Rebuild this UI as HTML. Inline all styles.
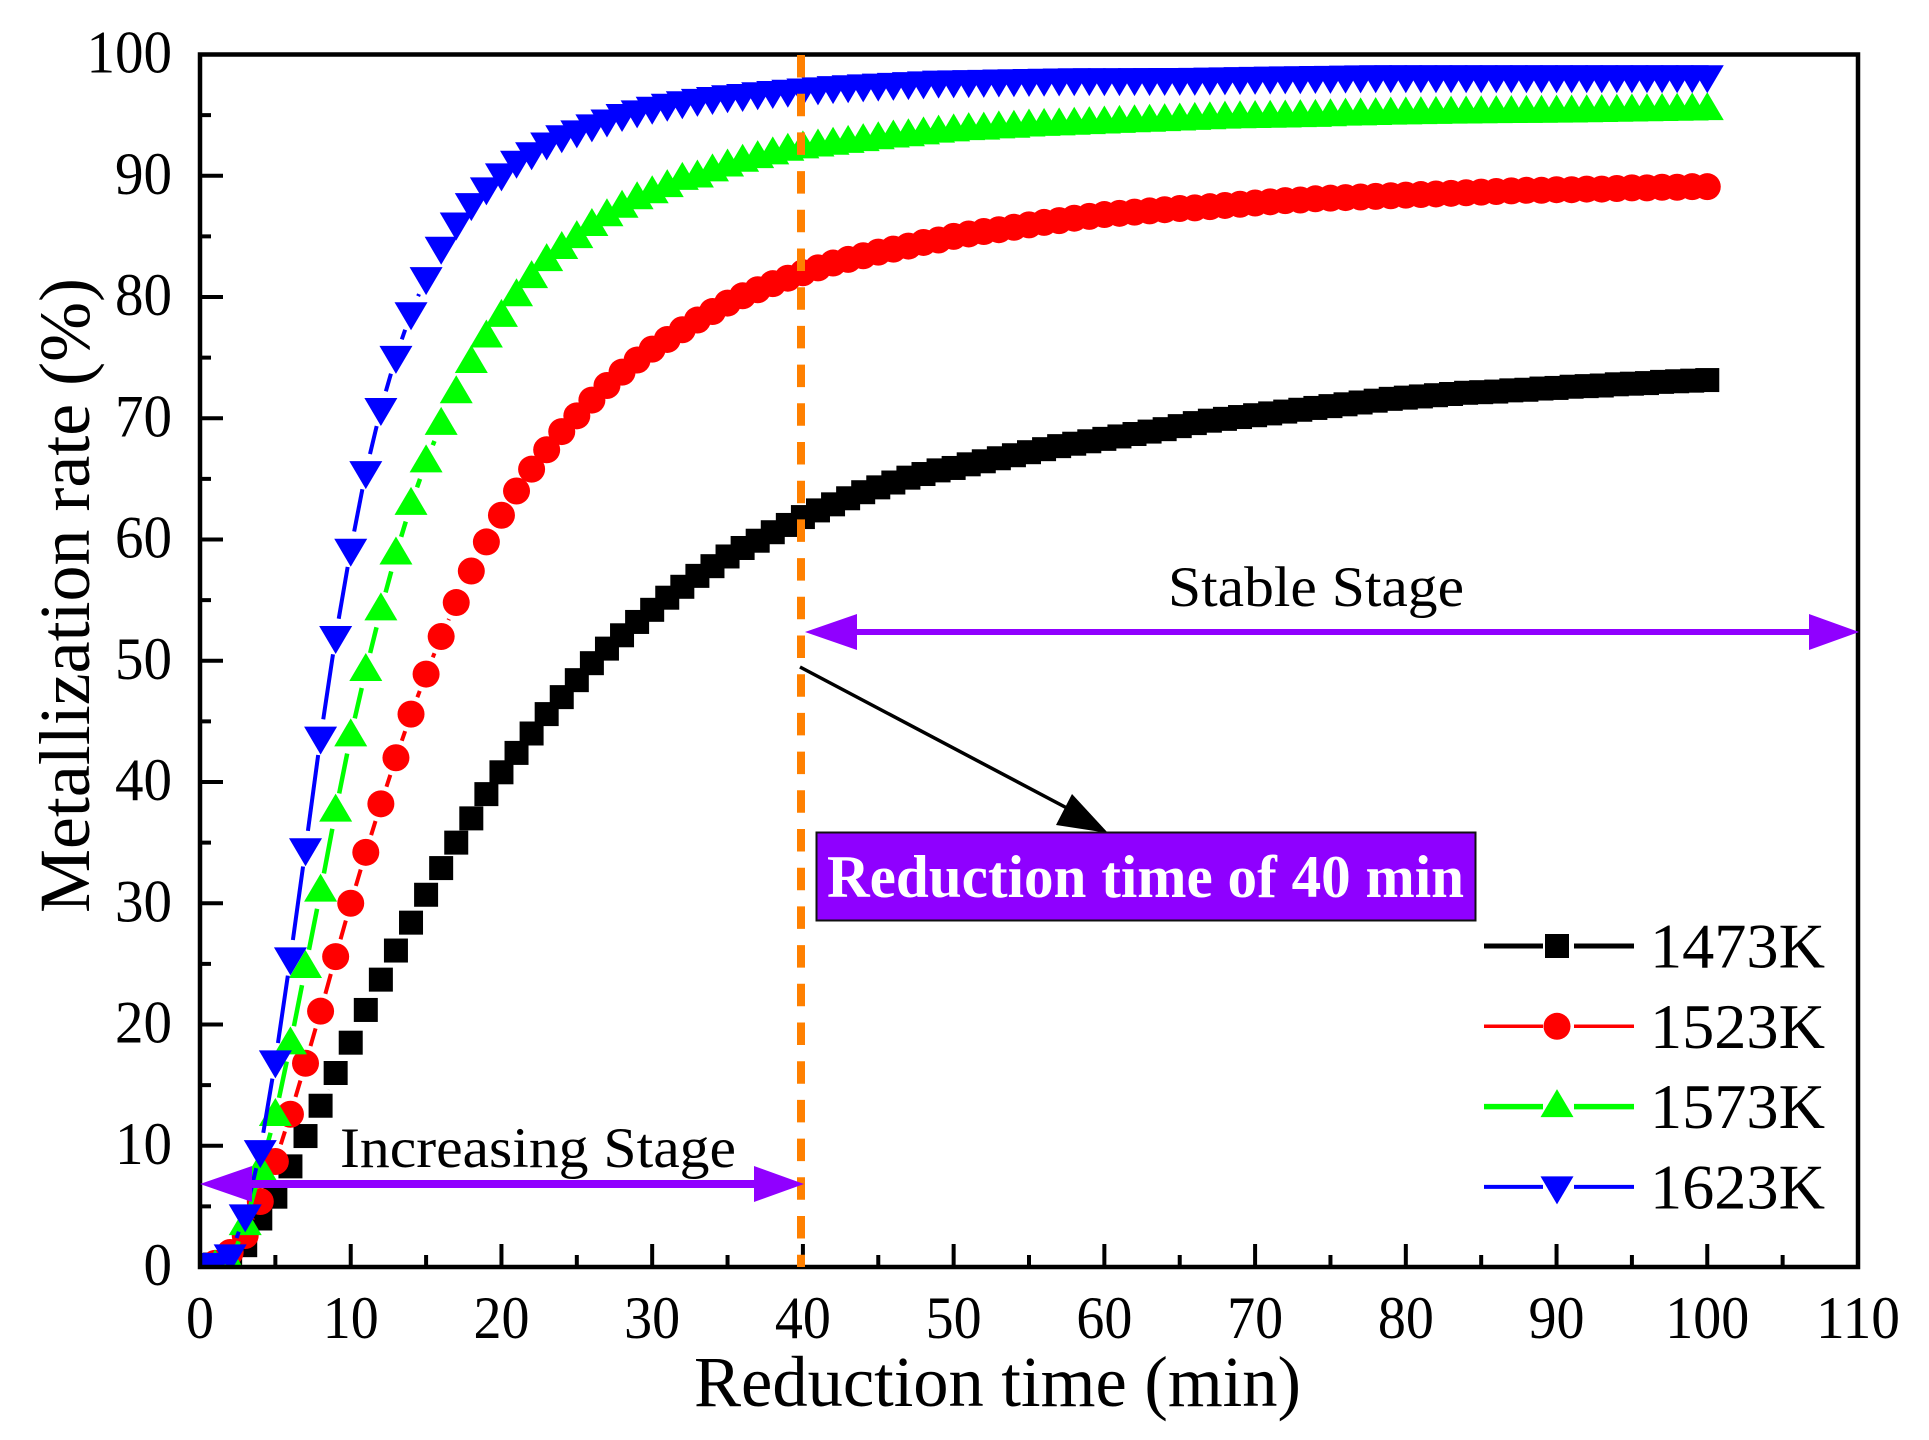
<!DOCTYPE html>
<html lang="en">
<head>
<meta charset="utf-8">
<title>Metallization rate vs reduction time</title>
<style>
html,body{margin:0;padding:0;background:#fff;}
svg{display:block;font-family:"Liberation Serif",serif;}
</style>
</head>
<body>
<svg id="chart" xmlns="http://www.w3.org/2000/svg" width="1929" height="1440" viewBox="0 0 1929 1440">
  <defs>
    <clipPath id="plot-clip"><rect x="198" y="54" width="1660" height="1213"></rect></clipPath>
  </defs>
  <rect x="0" y="0" width="1929" height="1440" fill="#ffffff"></rect>
  <g id="series-layer" clip-path="url(#plot-clip)"></g>
  <g id="axis-layer"></g>
  <rect x="200" y="54.5" width="1658" height="1212.5" fill="none" stroke="#000" stroke-width="4.5"></rect>
  <text x="694" y="1406" font-size="72" textLength="607" lengthAdjust="spacingAndGlyphs" fill="#000">Reduction time (min)</text>
  <text transform="translate(89,913) rotate(-90)" font-size="72" textLength="635" lengthAdjust="spacingAndGlyphs" fill="#000">Metallization rate (%)</text>

  <line x1="801" y1="55" x2="801" y2="1267" stroke="#ff8000" stroke-width="8" stroke-dasharray="22.5 16.2"></line>

  <g fill="#9000ff">
    <rect x="240" y="1180" width="525" height="8"></rect>
    <polygon points="200,1184 252,1166 252,1202"></polygon>
    <polygon points="804,1184 754,1166 754,1202"></polygon>
  </g>
  <text x="340" y="1167" font-size="57" textLength="396" lengthAdjust="spacingAndGlyphs" fill="#000">Increasing Stage</text>

  <g fill="#9000ff">
    <rect x="845" y="629" width="975" height="6"></rect>
    <polygon points="805,632 857,614 857,650"></polygon>
    <polygon points="1859,632 1809,614 1809,650"></polygon>
  </g>
  <text x="1168" y="606" font-size="57" textLength="296" lengthAdjust="spacingAndGlyphs" fill="#000">Stable Stage</text>

  <g>
    <line x1="800" y1="667" x2="1082" y2="816" stroke="#000" stroke-width="3.5"></line>
    <polygon points="1108,833 1072,794 1056,825" fill="#000"></polygon>
  </g>
  <rect x="816.5" y="832.5" width="659" height="88" fill="#8f00ff" stroke="#111" stroke-width="2"></rect>
  <text x="827" y="897" font-size="60" font-weight="bold" textLength="637" lengthAdjust="spacingAndGlyphs" fill="#ffffff">Reduction time of 40 min</text>

  <g id="legend-layer"></g>
</svg>

<script>
// ---- chart data ----
const xTickLabels = ["0","10","20","30","40","50","60","70","80","90","100","110"];
const yTickLabels = ["0","10","20","30","40","50","60","70","80","90","100"];
const xMinorTicks = [5,15,25,35,45,55,65,75,85,95,105];
const yMinorTicks = [5,15,25,35,45,55,65,75,85,95];
const times = [0,1,2,3,4,5,6,7,8,9,10,11,12,13,14,15,16,17,18,19,20,21,22,23,24,25,26,27,28,29,30,31,32,33,34,35,36,37,38,39,40,41,42,43,44,45,46,47,48,49,50,51,52,53,54,55,56,57,58,59,60,61,62,63,64,65,66,67,68,69,70,71,72,73,74,75,76,77,78,79,80,81,82,83,84,85,86,87,88,89,90,91,92,93,94,95,96,97,98,99,100];
const seriesNames = ["1473K","1523K","1573K","1623K"];
const values1473 = [0,0.2,0.8,1.8,4,5.8,8.3,10.8,13.3,16,18.5,21.2,23.7,26.1,28.4,30.7,32.9,35,37,39,40.8,42.4,44,45.6,47,48.4,49.8,51,52.1,53.2,54.2,55.2,56.1,57,57.8,58.6,59.3,59.9,60.6,61.2,61.85,62.4,62.9,63.4,63.9,64.3,64.7,65.1,65.4,65.7,65.9,66.2,66.45,66.7,66.95,67.2,67.45,67.7,67.9,68.1,68.3,68.5,68.7,68.9,69.1,69.35,69.6,69.8,69.95,70.1,70.25,70.4,70.55,70.7,70.85,71,71.15,71.3,71.45,71.6,71.7,71.8,71.9,72,72.1,72.15,72.2,72.3,72.35,72.45,72.5,72.6,72.65,72.7,72.8,72.85,72.9,73,73.05,73.1,73.15];
const values1523 = [0,0.3,1.2,2.6,5.4,8.7,12.6,16.8,21.1,25.6,30,34.2,38.2,42,45.6,48.9,52,54.8,57.4,59.8,62,64,65.8,67.4,68.9,70.2,71.5,72.7,73.8,74.8,75.7,76.5,77.3,78.1,78.8,79.5,80.1,80.6,81.1,81.55,82,82.4,82.8,83.1,83.4,83.7,83.95,84.2,84.5,84.7,85,85.2,85.4,85.55,85.75,85.95,86.15,86.3,86.5,86.65,86.8,86.9,87,87.1,87.2,87.3,87.35,87.45,87.55,87.65,87.75,87.85,87.95,88,88.1,88.15,88.2,88.25,88.3,88.35,88.4,88.45,88.5,88.55,88.6,88.65,88.7,88.75,88.8,88.8,88.85,88.85,88.9,88.9,88.95,89,89,89.05,89.05,89.1,89.1];
const values1573 = [0,0,0.3,3.5,8,12.5,18.4,24.7,31,37.6,43.8,49.2,54.2,58.8,62.9,66.4,69.5,72.1,74.6,76.7,78.4,80.1,81.6,83,84,84.9,85.9,86.7,87.4,88.1,88.6,89.1,89.7,89.9,90.4,90.8,91.2,91.5,91.8,92.1,92.3,92.45,92.6,92.75,92.9,93.05,93.2,93.3,93.45,93.6,93.7,93.8,93.85,93.95,94,94.1,94.15,94.2,94.25,94.3,94.35,94.4,94.45,94.5,94.55,94.6,94.65,94.7,94.75,94.78,94.8,94.82,94.85,94.88,94.9,94.95,95,95.02,95.05,95.08,95.1,95.12,95.14,95.16,95.18,95.2,95.21,95.22,95.23,95.24,95.25,95.26,95.28,95.3,95.32,95.34,95.36,95.38,95.4,95.42,95.45];
const values1623 = [0,0.3,1,4.3,9.6,17,25.5,34.5,43.7,52,59.2,65.6,70.8,75.1,78.7,81.6,84.1,86.1,87.7,89,90.15,91.2,91.9,92.7,93.3,93.7,94.2,94.6,95.05,95.35,95.65,95.9,96.1,96.3,96.45,96.6,96.7,96.85,96.95,97.05,97.15,97.25,97.35,97.42,97.5,97.56,97.62,97.68,97.74,97.8,97.82,97.85,97.87,97.9,97.92,97.94,97.96,97.98,98,98,98,98,98.01,98.01,98.02,98.02,98.03,98.05,98.07,98.09,98.11,98.13,98.15,98.17,98.19,98.2,98.22,98.24,98.25,98.25,98.25,98.25,98.25,98.25,98.25,98.25,98.25,98.25,98.25,98.25,98.25,98.25,98.25,98.25,98.25,98.25,98.25,98.25,98.25,98.25,98.25];

// ---- scales ----
const SVG_NS = "http://www.w3.org/2000/svg";
const xScale = v => 200 + v * (1858 - 200) / 110;
const yScale = v => 1267 - v * (1267 - 54.5) / 100;

const axisLayer = document.getElementById("axis-layer");
const seriesLayer = document.getElementById("series-layer");
const legendLayer = document.getElementById("legend-layer");

function tickLine(x1, y1, x2, y2) {
  const el = document.createElementNS(SVG_NS, "line");
  el.setAttribute("x1", x1);
  el.setAttribute("y1", y1);
  el.setAttribute("x2", x2);
  el.setAttribute("y2", y2);
  el.setAttribute("stroke", "#000");
  el.setAttribute("stroke-width", "4");
  return el;
}

xTickLabels.forEach(label => {
  const x = xScale(Number(label));
  const tick = tickLine(x, 1267, x, 1244);
  
  
  axisLayer.appendChild(tick);
  const text = document.createElementNS(SVG_NS, "text");
  
  
  text.setAttribute("x", x - label.length * 14);
  text.setAttribute("y", 1338);
  text.setAttribute("font-size", "60");
  text.setAttribute("textLength", label.length * 28);
  text.setAttribute("lengthAdjust", "spacingAndGlyphs");
  text.textContent = label;
  axisLayer.appendChild(text);
});
xMinorTicks.forEach(v => {
  const x = xScale(v);
  const tick = tickLine(x, 1267, x, 1255);
  
  
  axisLayer.appendChild(tick);
});
yTickLabels.forEach(label => {
  const y = yScale(Number(label));
  const tick = tickLine(200, y, 223, y);
  
  
  axisLayer.appendChild(tick);
  const text = document.createElementNS(SVG_NS, "text");
  
  
  text.setAttribute("x", 172 - label.length * 28.5);
  text.setAttribute("y", y + 18);
  text.setAttribute("font-size", "60");
  text.setAttribute("textLength", label.length * 28.5);
  text.setAttribute("lengthAdjust", "spacingAndGlyphs");
  text.textContent = label;
  axisLayer.appendChild(text);
});
yMinorTicks.forEach(v => {
  const y = yScale(v);
  const tick = tickLine(200, y, 211, y);
  
  
  axisLayer.appendChild(tick);
});

// ---- marker shapes, drawn around a scaled point ----
function marker(kind, cx, cy, color) {
  let el;
  if (kind === "square") {
    el = document.createElementNS(SVG_NS, "rect");
    el.setAttribute("x", cx - 12);
    el.setAttribute("y", cy - 12);
    el.setAttribute("width", 24);
    el.setAttribute("height", 24);
  } else if (kind === "circle") {
    el = document.createElementNS(SVG_NS, "circle");
    el.setAttribute("cx", cx);
    el.setAttribute("cy", cy);
    el.setAttribute("r", 13.5);
  } else if (kind === "up") {
    el = document.createElementNS(SVG_NS, "polygon");
    el.setAttribute("points", `${cx},${cy - 17.5} ${cx + 16.5},${cy + 10.5} ${cx - 16.5},${cy + 10.5}`);
  } else {
    el = document.createElementNS(SVG_NS, "polygon");
    el.setAttribute("points", `${cx},${cy + 17.5} ${cx + 16.5},${cy - 10.5} ${cx - 16.5},${cy - 10.5}`);
  }
  el.setAttribute("fill", color);
  return el;
}

function drawSeries(values, color, kind, width) {
  const group = document.createElementNS(SVG_NS, "g");
  
  
  const gap = 18;
  for (let i = 1; i < values.length; i++) {
    const x0 = xScale(times[i - 1]), y0 = yScale(values[i - 1]);
    const x1 = xScale(times[i]), y1 = yScale(values[i]);
    const d = Math.hypot(x1 - x0, y1 - y0);
    if (d <= gap * 2) continue;
    const ux = (x1 - x0) / d, uy = (y1 - y0) / d;
    const seg = document.createElementNS(SVG_NS, "line");
    
    
    seg.setAttribute("x1", x0 + ux * gap);
    seg.setAttribute("y1", y0 + uy * gap);
    seg.setAttribute("x2", x1 - ux * gap);
    seg.setAttribute("y2", y1 - uy * gap);
    seg.setAttribute("stroke", color);
    seg.setAttribute("stroke-width", width);
    group.appendChild(seg);
  }
  values.forEach((v, i) => {
    const m = marker(kind, xScale(times[i]), yScale(v), color);
    
    
    group.appendChild(m);
  });
  seriesLayer.appendChild(group);
}

drawSeries(values1473, "#000000", "square", 4);
drawSeries(values1523, "#ff0000", "circle", 4);
drawSeries(values1573, "#00ff00", "up", 4.5);
drawSeries(values1623, "#0000ff", "down", 4);

// ---- legend ----
const legendColors = ["#000000", "#ff0000", "#00ff00", "#0000ff"];
const legendKinds = ["square", "circle", "up", "down"];
const legendWidths = [5, 3.5, 5.5, 4];
seriesNames.forEach((name, i) => {
  const y = 946 + i * 80.3;
  [[1484, 1543], [1574, 1634]].forEach(span => {
    const seg = document.createElementNS(SVG_NS, "line");
    
    
    seg.setAttribute("x1", span[0]);
    seg.setAttribute("y1", y);
    seg.setAttribute("x2", span[1]);
    seg.setAttribute("y2", y);
    seg.setAttribute("stroke", legendColors[i]);
    seg.setAttribute("stroke-width", legendWidths[i]);
    legendLayer.appendChild(seg);
  });
  const m = marker(legendKinds[i], 1557, y, legendColors[i]);
  
  
  legendLayer.appendChild(m);
  const text = document.createElementNS(SVG_NS, "text");
  
  
  text.setAttribute("x", 1650);
  text.setAttribute("y", y + 21.5);
  text.setAttribute("font-size", "63");
  text.setAttribute("textLength", 175);
  text.setAttribute("lengthAdjust", "spacingAndGlyphs");
  text.textContent = name;
  legendLayer.appendChild(text);
});
</script>
</body>
</html>
